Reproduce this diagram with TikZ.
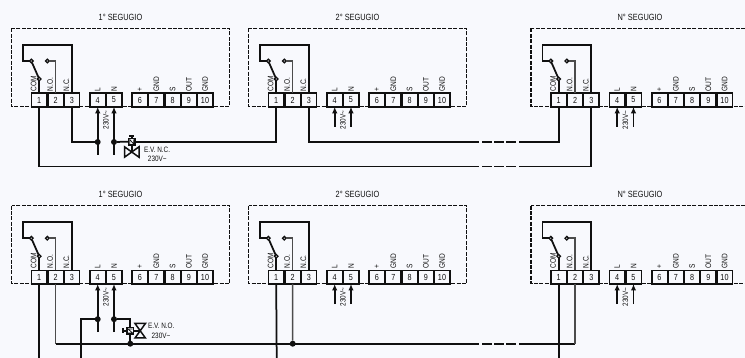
\documentclass[tikz,border=0pt]{standalone}
\usepackage{fontspec}
\setmainfont[FakeStretch=0.82]{Liberation Sans}
\usetikzlibrary{arrows.meta}
\definecolor{bgc}{HTML}{F8F9FD}
\definecolor{ink}{HTML}{101010}
\tikzset{
  x=1pt,y=-1pt,
  every node/.style={text=ink,inner sep=0pt,outer sep=0pt},
  wire/.style={draw=ink,line width=1.75pt},
  heavy/.style={draw=ink,line width=2pt},
  relay/.style={draw=ink,line width=1.75pt},
  thinw/.style={draw=ink!75,line width=1.4pt},
  railbreak/.style={wire,dash pattern=on 9.5pt off 2.5pt},
  housing/.style={draw=ink,line width=1.5pt,dash pattern=on 4pt off 1.4pt},
  terminal/.style={draw=ink,line width=1.6pt,fill=bgc,minimum width=15.6pt,minimum height=13.6pt,font=\fontsize{8.8}{9}\selectfont},
  contact/.style={circle,draw=ink,line width=1.3pt,fill=bgc,minimum size=3.6pt},
  junction/.style={circle,fill=ink,minimum size=6pt},
  pinlabel/.style={rotate=90,anchor=west,font=\fontsize{8}{8}\selectfont},
  title/.style={font=\fontsize{9}{9}\selectfont},
  small/.style={font=\fontsize{7.8}{8}\selectfont},
  feed/.style={draw=ink,line width=1.75pt,-{Latex[length=6.5pt,width=5.5pt]}},
  valvebody/.style={draw=ink,line width=1.4pt,fill=bgc,minimum size=6.6pt},
  bow/.style={draw=ink,line width=1.5pt,line join=miter}
}
\newcommand{\seguigio}[5]{%
 \begin{scope}[shift={(#2,#3)}]
  \node[title] (#1-t) at (120.5,17.5) {#4};
  \draw[housing] (11.5,28.5) rectangle (229.5,106.5);
  \foreach \n/\xx in {1/39.2,2/55.6,3/71.8,4/97.7,5/114,6/140,7/156.3,8/172.6,9/188.8,10/205}{
    \node[terminal] (#1-\n) at (\xx,100) {\n};
  }
  \foreach \nm/\xx/\tx in {a/33.6/COM,b/50/N.O.,c/66.4/N.C.,d/97.7/L,e/114/N,f/140/+,g/156.3/GND,h/172.6/S,i/188.8/OUT,j/205/GND}{
    \node[pinlabel] (#1-p\nm) at (\xx,91.3) {\tx};
  }
  \node[contact] (#1-cn) at (31.3,61) {};
  \node[contact] (#1-co) at (47.3,61) {};
  \node[contact] (#1-cc) at (39.2,79) {};
  \coordinate (#1-k1) at (23,61);
  \coordinate (#1-k2) at (23,45);
  \coordinate (#1-k3) at (71.8,45);
  \draw[relay] (#1-cn) -- (#1-k1) -- (#1-k2) -- (#1-k3) -- (#1-3.north);
  \draw[relay] (#1-cn) -- (#1-cc);
  \draw[relay] (#1-cc) -- (#1-1.north);
  \draw[thinw] (#1-co) -| (#1-2.north);
  \coordinate (#1-fl) at (97.7,#5);
  \coordinate (#1-fn) at (114,#5);
  \draw[feed] (#1-fl) -- (#1-4.south);
  \draw[feed] (#1-fn) -- (#1-5.south);
  \node[rotate=90,small] (#1-v) at (106,120) {230V\char`~};
 \end{scope}}
\begin{document}
\begin{tikzpicture}
\useasboundingbox (0,0) rectangle (745,358);
\fill[bgc] (0,0) rectangle (745,358);
\clip (0,0) rectangle (745,358);
% ---------- top row
\seguigio{a}{0}{0}{1° SEGUGIO}{155}
\seguigio{b}{237}{0}{2° SEGUGIO}{127}
\seguigio{c}{519.5}{0}{N° SEGUGIO}{127}
\node[junction] (aj1) at (97.7,142) {};
\node[junction] (aj2) at (114,142) {};
\node[valvebody] (vs) at (131.7,141.7) {};
\coordinate (vt) at (131.7,135.8);
\coordinate (vl) at (129.3,135.8);
\coordinate (vr) at (134.1,135.8);
\coordinate (vc) at (131.7,152);
\draw[wire] (a-3.south) |- (aj1);
\draw[wire] (aj2) -- (vs.west);
\draw[wire] (vs.east) -| (b-1.south);
\draw[wire] (vs.north) -- (vt);
\draw[wire] (vl) -- (vr);
\draw[wire] (vs.south) -- (vc);
\draw[bow] (124.5,146.8) -- (139,157.2) -- (139,146.8) -- (124.5,157.2) -- cycle;
\draw[line width=.7pt,draw=ink] (129.8,144) -- (129.8,139.5) -- (133.6,144) -- (133.6,139.5);
\node[small,anchor=west] (vtxt1) at (144,150) {E.V. N.C.};
\node[small] (vtxt2) at (157.3,159) {230V\char`~};
\coordinate (r1a) at (479,142);
\coordinate (r1b) at (482,142);
\coordinate (r1c) at (516,142);
\coordinate (r1d) at (519,142);
\draw[wire] (b-3.south) |- (r1a);
\draw[railbreak] (r1b) -- (r1c);
\draw[wire] (r1d) -| (c-1.south);
\coordinate (r2a) at (479,166.5);
\coordinate (r2b) at (482,166.5);
\coordinate (r2c) at (516,166.5);
\coordinate (r2d) at (519,166.5);
\draw[wire] (a-1.south) |- (r2a);
\draw[railbreak] (r2b) -- (r2c);
\draw[wire] (r2d) -| (c-3.south);
% ---------- bottom row
\seguigio{d}{0}{177.2}{1° SEGUGIO}{155}
\seguigio{e}{237}{177.2}{2° SEGUGIO}{127}
\seguigio{f}{519.5}{177.2}{N° SEGUGIO}{127}
\node[junction] (dj1) at (97.7,319.2) {};
\node[junction] (dj2) at (114,319.2) {};
\node[junction] (dj3) at (130.3,343.7) {};
\node[junction] (ej1) at (292.7,343.7) {};
\coordinate (dw) at (81,358);
\coordinate (dk) at (130.3,319.2);
\node[valvebody] (ws) at (130.3,330.8) {};
\coordinate (wt) at (123.3,330.8);
\coordinate (wl) at (123.3,328.4);
\coordinate (wr) at (123.3,333.2);
\coordinate (wc) at (140.2,330.8);
\draw[wire] (dw) |- (dj1);
\draw[wire] (dj2) -- (dk) -- (ws.north);
\draw[wire] (ws.south) -- (dj3);
\draw[wire] (ws.west) -- (wt);
\draw[wire] (wl) -- (wr);
\draw[wire] (ws.east) -- (wc);
\draw[bow] (135,323.5) -- (145.4,338) -- (135,338) -- (145.4,323.5) -- cycle;
\draw[line width=.7pt,draw=ink] (128,333) -- (132.6,333) -- (128,329) -- (132.6,329);
\node[small,anchor=west] (wtxt1) at (148,326.3) {E.V. N.O.};
\node[small] (wtxt2) at (161,336) {230V\char`~};
\coordinate (d1e) at (39.2,358);
\coordinate (e1e) at (276.7,358);
\coordinate (f1e) at (558.7,358);
\draw[wire] (d-1.south) -- (d1e);
\draw[wire] (e-1.south) -- (e1e);
\draw[wire] (f-1.south) -- (f1e);
\coordinate (d2k) at (55.6,343.7);
\coordinate (r3a) at (479,343.7);
\coordinate (r3b) at (482,343.7);
\coordinate (r3c) at (516,343.7);
\coordinate (r3d) at (519,343.7);
\coordinate (f2k) at (575.1,343.7);
\draw[thinw] (d-2.south) -- (d2k);
\draw[heavy] (d2k) -- (r3a);
\draw[thinw] (e-2.south) -- (ej1);
\draw[heavy,dash pattern=on 9.5pt off 2.5pt] (r3b) -- (r3c);
\draw[heavy] (r3d) -- (f2k);
\draw[thinw] (f-2.south) -- (f2k);
\end{tikzpicture}
\end{document}
